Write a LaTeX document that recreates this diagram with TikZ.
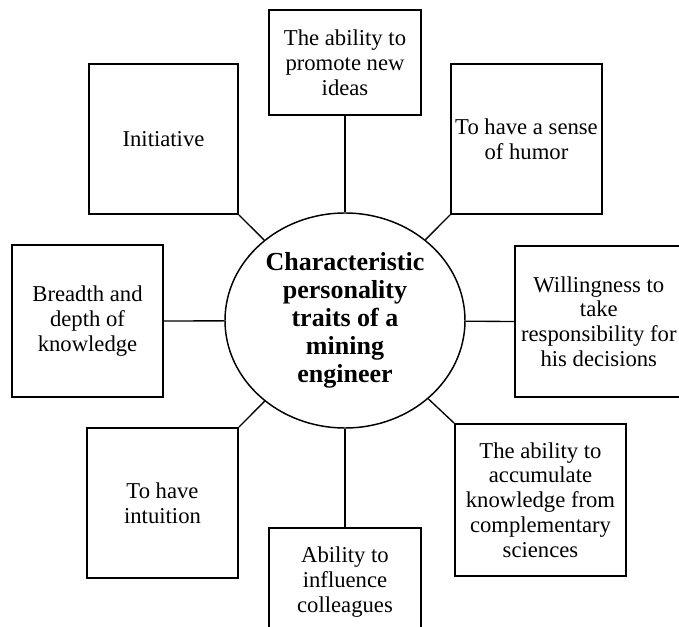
\documentclass[tikz,border=0pt]{standalone}
\usepackage{fontspec}
\setmainfont{Liberation Serif}
\usetikzlibrary{shapes.geometric}
\begin{document}
\begin{tikzpicture}[x=0.75pt,y=-0.75pt,
  trait/.style={draw,line width=1.4pt,rectangle,inner sep=1.5pt,align=center,
    font=\fontsize{17pt}{18.6pt}\selectfont},
  hub/.style={draw,line width=1.1pt,ellipse,inner sep=0pt,align=center,
    minimum width=180pt,minimum height=161.25pt,
    font=\fontsize{19.5pt}{21pt}\selectfont\bfseries},
  link/.style={line width=1pt}]
\useasboundingbox (0,0) rectangle (679,627);
\node[hub] (c) at (345,320.5) {Characteristic\\personality\\traits of a\\mining\\engineer};
\node[trait,minimum width=114pt,minimum height=78.75pt] (top) at (345,62.5) {The ability to\\promote new\\ideas};
\node[trait,minimum width=113.25pt,minimum height=112.5pt] (humor) at (526.5,139) {To have a sense\\of humor};
\node[trait,minimum width=130pt,minimum height=113.25pt] (will) at (601.5,321.5) {\hspace*{-4pt}Willingness to\\\hspace*{-4pt}take\\\hspace*{-4pt}responsibility for\\\hspace*{-4pt}his decisions};
\node[trait,minimum width=128.25pt,minimum height=114pt] (acc) at (540.5,500) {The ability to\\accumulate\\knowledge from\\complementary\\sciences};
\node[trait,minimum width=114pt,minimum height=81pt] (infl) at (345,582) {Ability to\\influence\\colleagues};
\node[trait,minimum width=113.25pt,minimum height=112.5pt] (intu) at (162.5,503) {To have\\intuition};
\node[trait,minimum width=113.25pt,minimum height=114pt] (bre) at (87.5,321) {Breadth and\\depth of\\knowledge};
\node[trait,minimum width=111.75pt,minimum height=112.5pt] (init) at (163.5,139) {Initiative};
\draw[link] (c) -- (top.south);
\draw[link] (c) -- (will.west);
\draw[link] (c) -- (infl.north);
\draw[link] (c) -- (bre.east);
\draw[link] (init.south east) -- (c);
\draw[link] (humor.south west) -- (c);
\draw[link] (acc.north west) -- (c);
\draw[link] (intu.north east) -- (c);
\end{tikzpicture}
\end{document}
